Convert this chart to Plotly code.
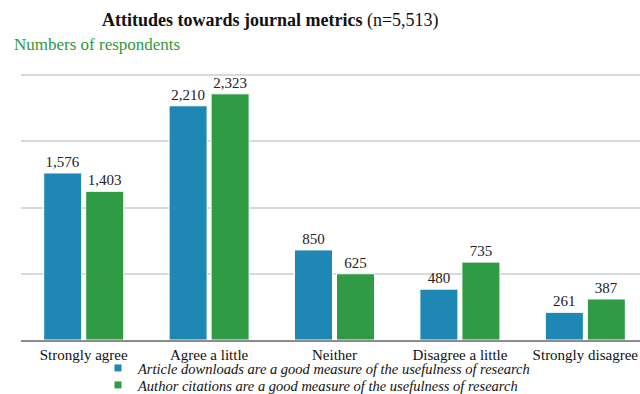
import plotly.graph_objects as go

categories = ["Strongly agree", "Agree a little", "Neither", "Disagree a little", "Strongly disagree"]
downloads = [1576, 2210, 850, 480, 261]
citations = [1403, 2323, 625, 735, 387]
series_names = [
    "Article downloads are a good measure of the usefulness of research",
    "Author citations are a good measure of the usefulness of research",
]
colors = ["#1F87B4", "#2F9B45"]

SERIF = "Liberation Serif, Times New Roman, serif"

W, H = 640, 394
l, r, t, b = 21, 0, 74, 54
pw, ph = W - l - r, H - t - b

fig = go.Figure()
for vals, col in zip([downloads, citations], colors):
    fig.add_trace(go.Bar(
        x=categories, y=vals,
        marker=dict(color=col, line=dict(color="white", width=1)),
        text=[f"{v:,}" for v in vals], textposition="outside",
        textfont=dict(family=SERIF, size=15, color="#222"),
        cliponaxis=False, showlegend=False,
    ))
legend_ids = ["legend", "legend2"]
for name, col, lg in zip(series_names, colors, legend_ids):
    fig.add_trace(go.Scatter(
        x=[None], y=[None], mode="markers", name=name, legend=lg,
        marker=dict(symbol="square", size=7, color=col),
    ))

def legend_box(row_center_y):
    return dict(x=(98 - l) / pw, y=-(row_center_y - 17 - (H - b)) / ph, xanchor="left", yanchor="top",
                font=dict(family=SERIF, size=14.5, color="#111", style="italic"),
                itemwidth=30, tracegroupgap=0, bgcolor="rgba(0,0,0,0)")

fig.update_layout(
    width=W, height=H,
    margin=dict(l=l, r=r, t=t, b=b, autoexpand=False),
    paper_bgcolor="white", plot_bgcolor="white",
    barmode="group", bargap=0.33, bargroupgap=0.095,
    font=dict(family=SERIF, color="#111"),
    xaxis=dict(range=[-0.5, 4.436], showline=True, linecolor="#8c8c8c", linewidth=2,
               tickfont=dict(family=SERIF, size=15, color="#111"), ticks="",
               showgrid=False, zeroline=False),
    yaxis=dict(range=[0, 2510], tickvals=[625, 1250, 1875, 2500], showticklabels=False, showgrid=True,
               gridcolor="#d9d9d9", gridwidth=1.5, zeroline=False, showline=False),
    legend=legend_box(369),
    legend2=legend_box(386),
    annotations=[
        dict(text="<b>Attitudes towards journal metrics</b> (n=5,513)", x=(270 - l) / pw, y=(H - b - 20) / ph,
             xref="paper", yref="paper", xanchor="center", yanchor="middle", showarrow=False,
             font=dict(family=SERIF, size=18, color="#111")),
        dict(text="Numbers of respondents", x=(12 - l) / pw, y=(H - b - 44) / ph, xref="paper", yref="paper",
             xanchor="left", yanchor="middle", showarrow=False,
             font=dict(family=SERIF, size=17, color="#2E9B3A")),
    ],
)

fig.write_html("out.html")
